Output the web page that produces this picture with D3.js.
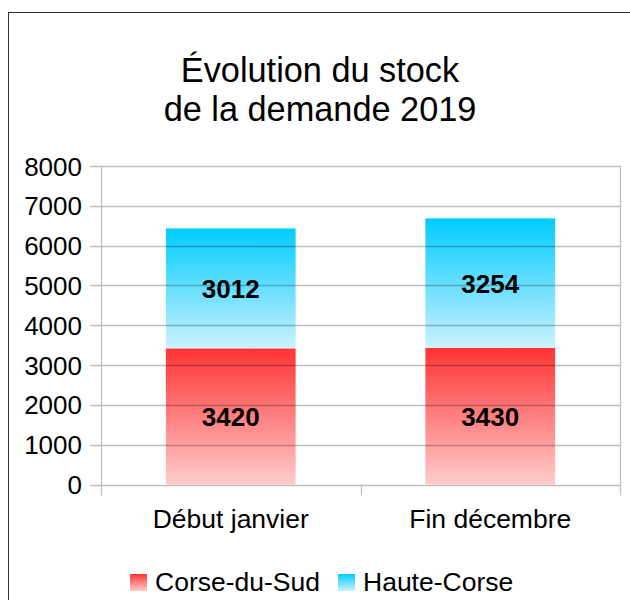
<!DOCTYPE html>
<html>
<head>
<meta charset="utf-8">
<script src="https://cdn.jsdelivr.net/npm/d3@7"></script>
<style>
  body { margin: 0; background: #ffffff; }
  svg { display: block; font-family: "Liberation Sans", Arial, sans-serif; }
</style>
</head>
<body>
<svg id="chart" width="630" height="600"></svg>
<script>
const categories = ["Début janvier", "Fin décembre"];
const seriesNames = ["Corse-du-Sud", "Haute-Corse"];
const corseDuSud = [3420, 3430];
const hauteCorse = [3012, 3254];
const yTicks = [0, 1000, 2000, 3000, 4000, 5000, 6000, 7000, 8000];
const titleLines = ["Évolution du stock", "de la demande 2019"];

const svg = d3.select("#chart");

// outer frame of the chart object
svg.append("rect")
    .attr("x", 8.5).attr("y", 12.5)
    .attr("width", 640).attr("height", 620)
    .attr("fill", "#ffffff")
    .attr("stroke", "#333333")
    .attr("stroke-width", 1);

const defs = svg.append("defs");
function gradient(id, top, bottom) {
    const g = defs.append("linearGradient")
        .attr("id", id)
        .attr("x1", 0).attr("y1", 0).attr("x2", 0).attr("y2", 1);
    g.append("stop").attr("offset", "0%").attr("stop-color", top);
    g.append("stop").attr("offset", "100%").attr("stop-color", bottom);
}
gradient("gradRed", "#ff3333", "#ffcccc");
gradient("gradBlue", "#00ccff", "#ccf2ff");
const fills = ["url(#gradRed)", "url(#gradBlue)"];

const plot = { left: 101, right: 620, top: 166, bottom: 484.5 };

const x = d3.scaleBand()
    .domain(categories)
    .range([plot.left, plot.right])
    .padding(0);

const y = d3.scaleLinear()
    .domain([0, 8000])
    .range([plot.bottom, plot.top]);

// title
svg.append("text")
    .attr("text-anchor", "middle")
    .attr("font-size", 34.3)
    .attr("fill", "#000")
    .selectAll("tspan")
    .data(titleLines)
    .enter()
    .append("tspan")
    .attr("x", 320)
    .attr("y", (d, i) => 82 + i * 38.5)
    .text(d => d);

// stacked data
const rows = categories.map((c, i) => ({ cat: c, s0: corseDuSud[i], s1: hauteCorse[i] }));
const stack = d3.stack().keys(["s0", "s1"])(rows);

const barW = x.bandwidth() * 0.5;

stack.forEach((layer, li) => {
    svg.append("g")
        .selectAll("rect")
        .data(layer)
        .enter()
        .append("rect")
        .attr("x", d => x(d.data.cat) + (x.bandwidth() - barW) / 2)
        .attr("y", d => y(d[1]))
        .attr("width", barW)
        .attr("height", d => y(d[0]) - y(d[1]))
        .attr("fill", fills[li]);
});

// gridlines drawn over the bars, translucent
svg.append("g")
    .selectAll("line")
    .data(yTicks)
    .enter()
    .append("line")
    .attr("x1", plot.left - 11)
    .attr("x2", plot.right)
    .attr("y1", d => Math.round(y(d)) + 0.5)
    .attr("y2", d => Math.round(y(d)) + 0.5)
    .attr("stroke", "rgba(0,0,0,0.25)")
    .attr("stroke-width", 1.3);

// vertical axis lines and category ticks
const xEdges = [plot.left, x(categories[1]), plot.right];
svg.append("g")
    .selectAll("line")
    .data(xEdges)
    .enter()
    .append("line")
    .attr("x1", d => Math.round(d) + 0.5)
    .attr("x2", d => Math.round(d) + 0.5)
    .attr("y1", (d, i) => i === 1 ? plot.bottom : plot.top)
    .attr("y2", plot.bottom + 11)
    .attr("stroke", "#c0c0c0")
    .attr("stroke-width", 1.3);

// y tick labels
svg.append("g")
    .selectAll("text")
    .data(yTicks)
    .enter()
    .append("text")
    .attr("x", 82)
    .attr("y", d => y(d) + 9.5)
    .attr("text-anchor", "end")
    .attr("font-size", 26)
    .attr("fill", "#000")
    .text(d => d);

// category labels
svg.append("g")
    .selectAll("text")
    .data(categories)
    .enter()
    .append("text")
    .attr("x", d => x(d) + x.bandwidth() / 2)
    .attr("y", 528)
    .attr("text-anchor", "middle")
    .attr("font-size", 26.5)
    .attr("fill", "#000")
    .text(d => d);

// value labels
stack.forEach(layer => {
    svg.append("g")
        .selectAll("text")
        .data(layer)
        .enter()
        .append("text")
        .attr("x", d => x(d.data.cat) + x.bandwidth() / 2)
        .attr("y", d => (y(d[0]) + y(d[1])) / 2 + 9.5)
        .attr("text-anchor", "middle")
        .attr("font-size", 26)
        .attr("font-weight", "bold")
        .attr("fill", "#000")
        .text(d => d[1] - d[0]);
});

// legend
const legendX = [130, 338];
const legend = svg.append("g")
    .selectAll("g")
    .data(seriesNames)
    .enter()
    .append("g")
    .attr("transform", (d, i) => `translate(${legendX[i]},574)`);

legend.append("rect")
    .attr("width", 17)
    .attr("height", 17)
    .attr("fill", (d, i) => fills[i]);

legend.append("text")
    .attr("x", 25)
    .attr("y", 16.5)
    .attr("font-size", 26.5)
    .attr("fill", "#000")
    .text(d => d);
</script>
</body>
</html>
